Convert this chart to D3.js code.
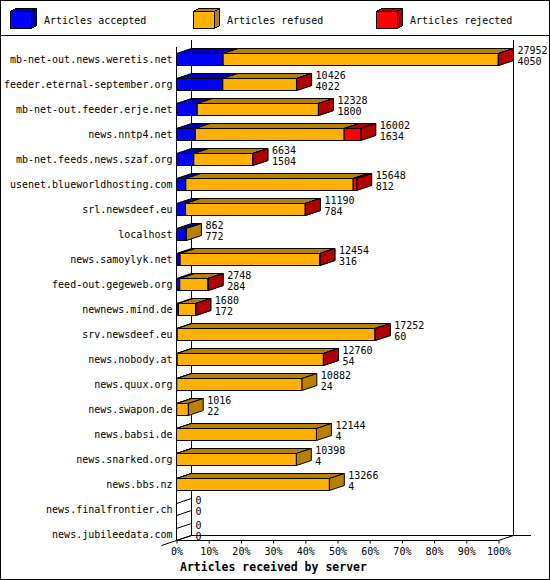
<!DOCTYPE html>
<html>
<head>
<meta charset="utf-8">
<script src="https://cdn.jsdelivr.net/npm/d3@7"></script>
<style>
  body { margin: 0; background: #fff; }
  svg text { font-family: "DejaVu Sans Mono", monospace; font-size: 10px; fill: #000; }
</style>
</head>
<body>
<svg id="chart" width="550" height="580"></svg>
<script>
const servers = [
  'mb-net-out.news.weretis.net', 'feeder.eternal-september.org', 'mb-net-out.feeder.erje.net',
  'news.nntp4.net', 'mb-net.feeds.news.szaf.org', 'usenet.blueworldhosting.com',
  'srl.newsdeef.eu', 'localhost', 'news.samoylyk.net', 'feed-out.gegeweb.org',
  'newnews.mind.de', 'srv.newsdeef.eu', 'news.nobody.at', 'news.quux.org',
  'news.swapon.de', 'news.babsi.de', 'news.snarked.org', 'news.bbs.nz',
  'news.finalfrontier.ch', 'news.jubileedata.com'
]
const offered  = [27952, 10426, 12328, 16002, 6634, 15648, 11190, 862, 12454, 2748, 1680, 17252, 12760, 10882, 1016, 12144, 10398, 13266, 0, 0]
const accepted = [4050, 4022, 1800, 1634, 1504, 812, 784, 772, 316, 284, 172, 60, 54, 24, 22, 4, 4, 4, 0, 0]
const refused  = [23882, 6394, 10518, 12918, 5120, 14526, 10396, 90, 12128, 2454, 1498, 17182, 12696, 10858, 994, 12140, 10394, 13262, 0, 0]
const rejected = [20, 10, 10, 1450, 10, 310, 10, 0, 10, 10, 10, 10, 10, 0, 0, 0, 0, 0, 0, 0]
const seriesNames = ['Articles accepted', 'Articles refused', 'Articles rejected']
const percentTicks = [0, 10, 20, 30, 40, 50, 60, 70, 80, 90, 100]

const colors = ['#0000ff', '#ffb000', '#ff0000']
const shades = ['#0000b0', '#b88000', '#b00000']
const dx = 15, dy = 5, barH = 12

const svg = d3.select('#chart')

// frame
svg.append('rect')
  .attr('x', 0.5).attr('y', 0.5).attr('width', 549).attr('height', 579)
  .attr('fill', '#fff').attr('stroke', '#000')
svg.append('line')
  .attr('x1', 0).attr('x2', 550).attr('y1', 35.5).attr('y2', 35.5)
  .attr('stroke', '#000')

const box = (x0, x1, t, b) => ({
  top: `M${x0},${t}L${x1},${t}L${x1 + dx},${t - dy}L${x0 + dx},${t - dy}Z`,
  side: `M${x1},${t}L${x1 + dx},${t - dy}L${x1 + dx},${b - dy}L${x1},${b}Z`,
  front: `M${x0},${t}L${x1},${t}L${x1},${b}L${x0},${b}Z`
})

// legend
const legendX = d3.scalePoint().domain(seriesNames).range([10, 376])
seriesNames.forEach((name, i) => {
  const g = svg.append('g').attr('shape-rendering', 'crispEdges')
  const x = legendX(name) + 0.5
  g.append('path').attr('d', `M${x},11.5L${x + 21},11.5L${x + 26},8.5L${x + 5},8.5Z`)
    .attr('fill', shades[i]).attr('stroke', '#000')
  g.append('path').attr('d', `M${x + 21},11.5L${x + 26},8.5L${x + 26},25.5L${x + 21},28.5Z`)
    .attr('fill', shades[i]).attr('stroke', '#000')
  g.append('rect').attr('x', x).attr('y', 11.5).attr('width', 21).attr('height', 17)
    .attr('fill', colors[i]).attr('stroke', '#000')
  svg.append('text').attr('x', legendX(name) + 34).attr('y', 24).text(name)
})

// scales
const xScale = d3.scaleLinear().domain([0, d3.max(offered)]).range([176.5, 498.5])
const pctScale = d3.scaleLinear().domain([0, 100]).range([176.5, 498.5])
const yScale = d3.scalePoint().domain(servers).range([59, 534])
const front = { left: 176.5, right: 498.5, bottom: 540.5, top: 47 }

// walls
const walls = svg.append('g').attr('stroke', '#000').attr('fill', 'none')
walls.append('path').attr('d', `M${front.left + dx},40V${front.bottom - dy}H531`)
walls.append('path').attr('d', `M${front.right + dx},40V${front.bottom - dy}`)
walls.append('path').attr('d', `M${front.left},${front.top}V${front.bottom}H${front.right}L${front.right + dx},${front.bottom - dy}`)
walls.append('path').attr('d', `M${front.left - dx},${front.bottom + dy}L${front.left + dx},${front.bottom - dy}`)

// bars
servers.forEach((name, i) => {
  const c = yScale(name)
  const t = Math.round(c - barH / 2) + 0.5
  const b = t + barH
  const g = svg.append('g').attr('stroke', '#000')
  const values = [accepted[i], refused[i], rejected[i]]
  if (offered[i] === 0) {
    const f = box(xScale(0), xScale(0), t, b)
    g.append('path').attr('d', f.side).attr('fill', 'none')
    g.append('path').attr('d', f.front).attr('fill', 'none')
  }
  let cum = 0
  values.forEach((v, k) => {
    if (v === 0) return
    const f = box(xScale(cum), xScale(cum + v), t, b)
    g.append('path').attr('d', f.top).attr('fill', shades[k])
    g.append('path').attr('d', f.side).attr('fill', shades[k])
    g.append('path').attr('d', f.front).attr('fill', colors[k])
    cum += v
  })
  const lx = xScale(offered[i]) + dx + 4
  svg.append('text').attr('x', lx).attr('y', c - 5).text(offered[i])
  svg.append('text').attr('x', lx).attr('y', c + 5.5).text(accepted[i])
})

// y axis labels
const yAxis = d3.axisLeft(yScale).tickSize(0).tickPadding(4)
svg.append('g')
  .attr('transform', `translate(${front.left},0)`)
  .call(yAxis)
  .call(g => g.select('.domain').remove())
  .call(g => g.selectAll('text').attr('font-family', null).attr('font-size', null))

// x axis
const xAxis = d3.axisBottom(pctScale).tickValues(percentTicks).tickFormat(d => d + '%').tickSize(3).tickPadding(4.5)
svg.append('g')
  .attr('transform', `translate(0,${front.bottom})`)
  .call(xAxis)
  .call(g => g.select('.domain').remove())
  .call(g => g.selectAll('text').attr('font-family', null).attr('font-size', null))

svg.append('text')
  .attr('x', 180).attr('y', 571)
  .style('font-weight', 'bold').style('font-size', '11.5px')
  .text('Articles received by server')
</script>
</body>
</html>
